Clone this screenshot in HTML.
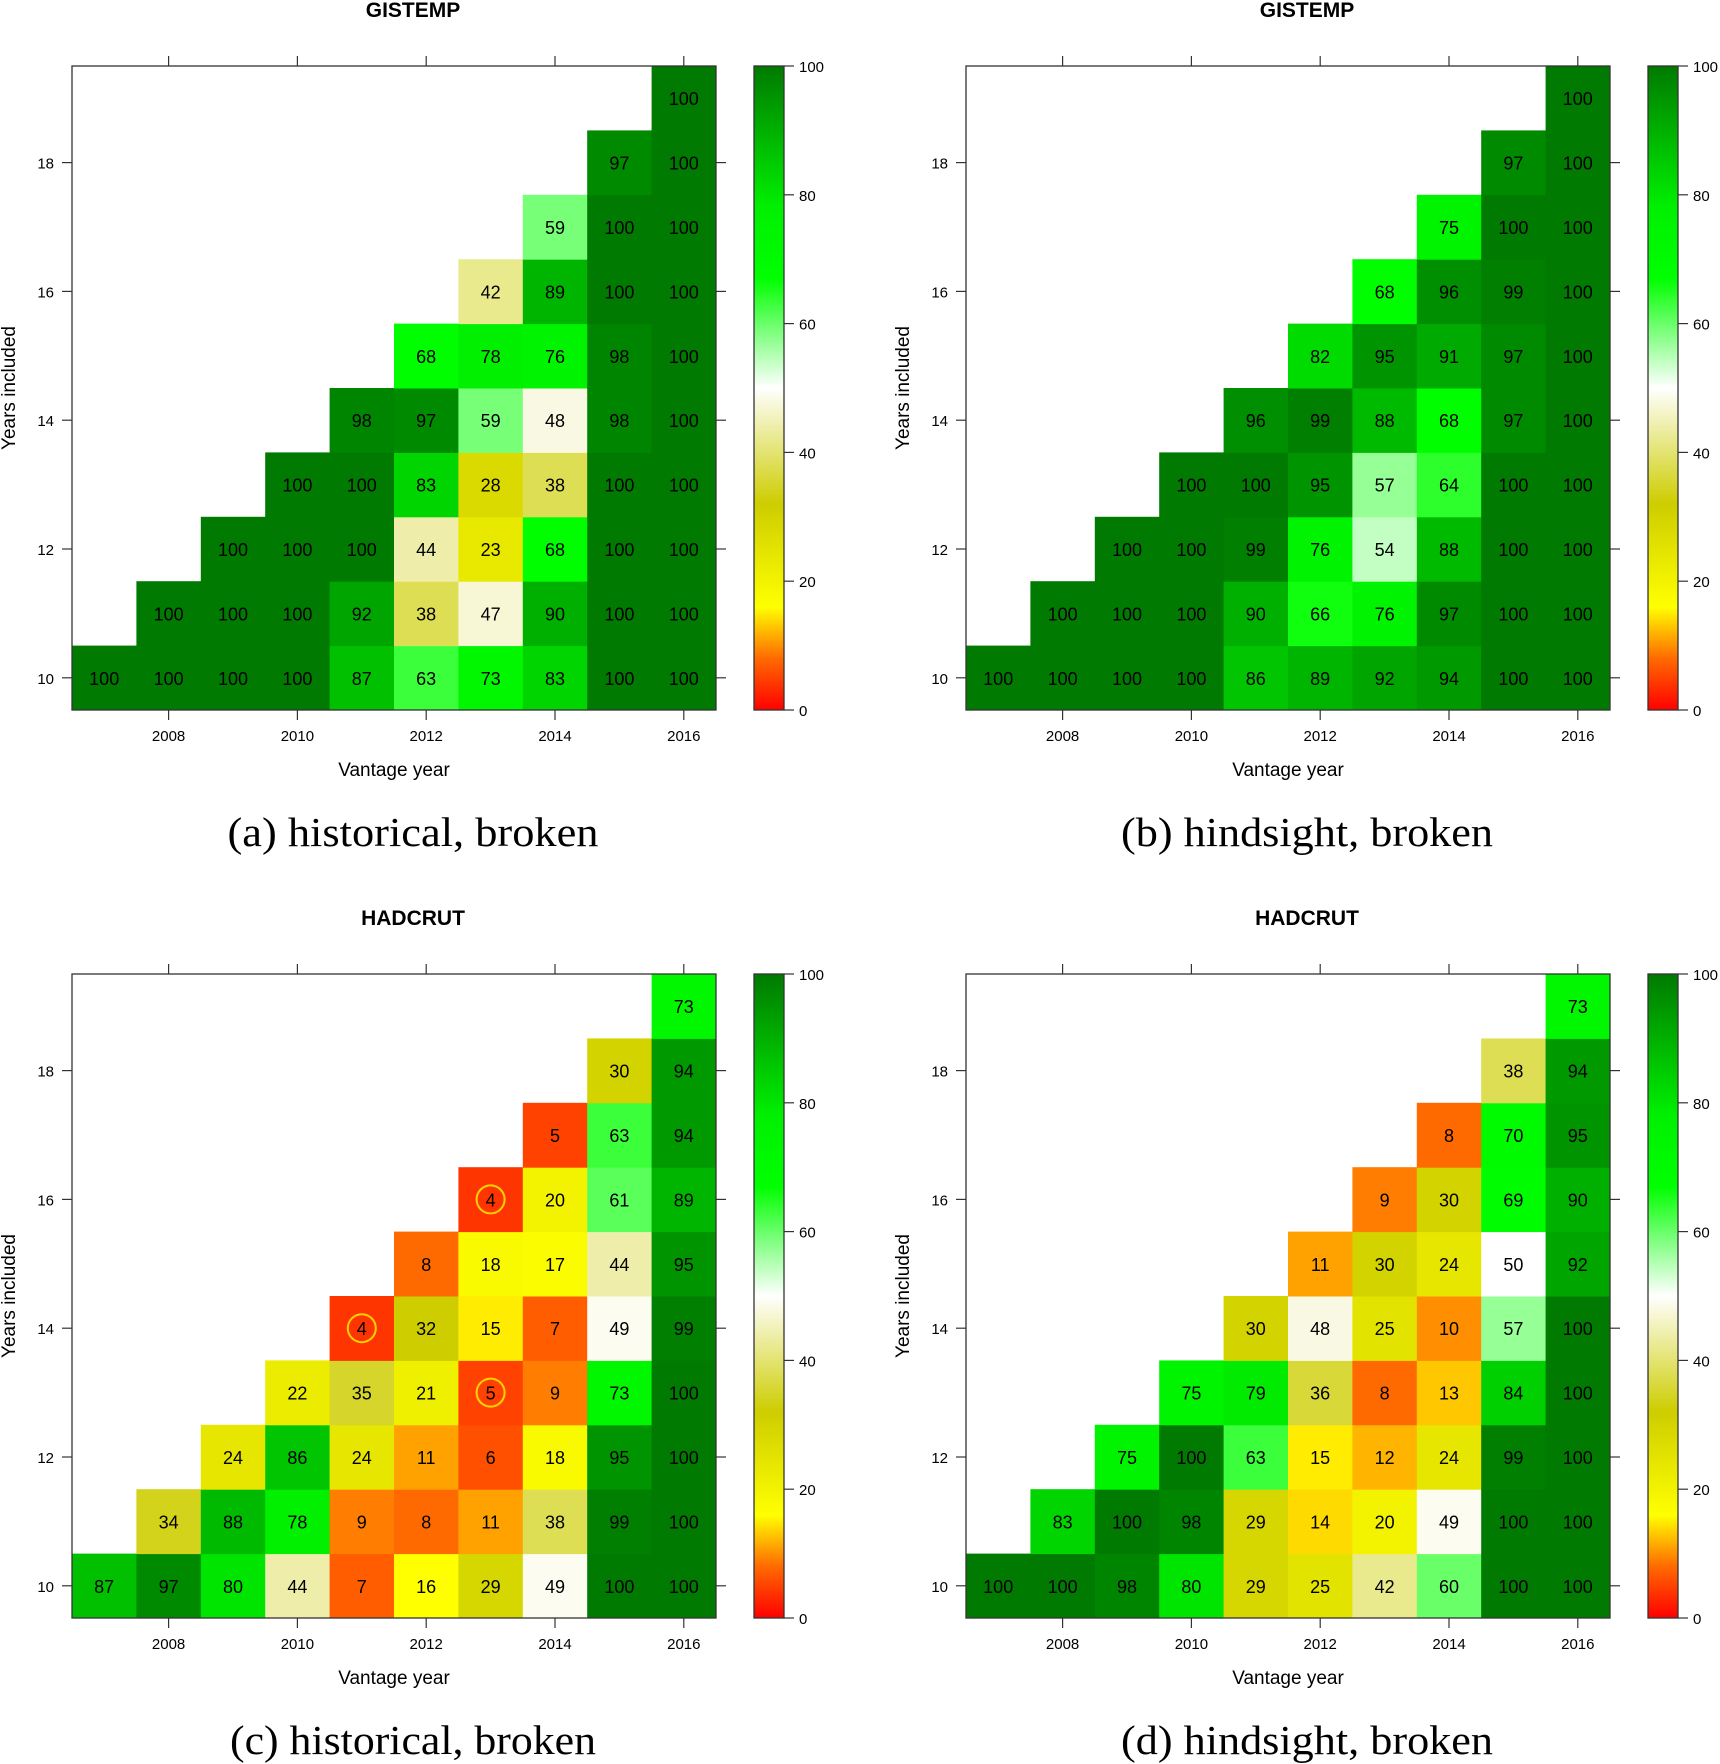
<!DOCTYPE html>
<html><head><meta charset="utf-8">
<style>
html,body{margin:0;padding:0;background:#fff;}
svg{display:block;}
</style></head>
<body>
<svg id="chart" width="1720" height="1764" xmlns="http://www.w3.org/2000/svg" font-family="'Liberation Sans', sans-serif">
<defs>
<linearGradient id="cbar" x1="0" y1="1" x2="0" y2="0">
<stop offset="0" stop-color="#ff0000"/>
<stop offset="0.08" stop-color="#ff6a00"/>
<stop offset="0.16" stop-color="#ffff00"/>
<stop offset="0.32" stop-color="#cdcd00"/>
<stop offset="0.5" stop-color="#ffffff"/>
<stop offset="0.67" stop-color="#00ff00"/>
<stop offset="0.78" stop-color="#00f000"/>
<stop offset="1" stop-color="#007a00"/>
</linearGradient>
</defs>
</svg>
<script>
const vantageYears = [2007,2008,2009,2010,2011,2012,2013,2014,2015,2016];
const yearsIncluded = [10,11,12,13,14,15,16,17,18,19];
const xTickLabels = [2008,2010,2012,2014,2016];
const yTickLabels = [10,12,14,16,18];
const cbarTickLabels = [0,20,40,60,80,100];
const panelTitles = ["GISTEMP","GISTEMP","HADCRUT","HADCRUT"];
const panelCaptions = ["(a)  historical, broken","(b)  hindsight, broken","(c)  historical, broken","(d)  hindsight, broken"];
const valuesA = [[100],[100,100],[100,100,100],[100,100,100,100],[87,92,100,100,98],[63,38,44,83,97,68],[73,47,23,28,59,78,42],[83,90,68,38,48,76,89,59],[100,100,100,100,98,98,100,100,97],[100,100,100,100,100,100,100,100,100,100]];
const valuesB = [[100],[100,100],[100,100,100],[100,100,100,100],[86,90,99,100,96],[89,66,76,95,99,82],[92,76,54,57,88,95,68],[94,97,88,64,68,91,96,75],[100,100,100,100,97,97,99,100,97],[100,100,100,100,100,100,100,100,100,100]];
const valuesC = [[87],[97,34],[80,88,24],[44,78,86,22],[7,9,24,35,4],[16,8,11,21,32,8],[29,11,6,5,15,18,4],[49,38,18,9,7,17,20,5],[100,99,95,73,49,44,61,63,30],[100,100,100,100,99,95,89,94,94,73]];
const valuesD = [[100],[100,83],[98,100,75],[80,98,100,75],[29,29,63,79,30],[25,14,15,36,48,11],[42,20,12,8,25,30,9],[60,49,24,13,10,24,30,8],[100,100,99,84,57,50,69,70,38],[100,100,100,100,100,92,90,95,94,73]];
const circledC = [[2011,14],[2013,13],[2013,16]];
const captionWidths = [371,372,366,372];

const NS="http://www.w3.org/2000/svg";
const svg=document.getElementById('chart');
function mk(tag,attrs,parent){const e=document.createElementNS(NS,tag);for(const k in attrs)e.setAttribute(k,attrs[k]);(parent||svg).appendChild(e);return e;}
const stops=[[0,[255,0,0]],[8,[255,106,0]],[16,[255,255,0]],[32,[205,205,0]],[50,[255,255,255]],[67,[0,255,0]],[78,[0,240,0]],[100,[0,122,0]]];
function color(v){for(let i=0;i<stops.length-1;i++){const a=stops[i],b=stops[i+1];if(v<=b[0]){const t=(v-a[0])/(b[0]-a[0]);const c=a[1].map((x,j)=>Math.round(x+(b[1][j]-x)*t));return `rgb(${c.join(',')})`;}}return 'rgb(0,122,0)';}

const PL=72,PR=716,PT=66,PB=710,CBL=754,CBR=784;
const cw=(PR-PL)/10,ch=(PB-PT)/10;
const panels=[[valuesA,0,0,[]],[valuesB,894,0,[]],[valuesC,0,908,circledC],[valuesD,894,908,[]]];
panels.forEach((p,pi)=>{
  const [vals,ox,oy,circ]=p;
  const g=mk('g',{transform:`translate(${ox},${oy})`});
  
  
  const xS=yr=>PL+(yr-2006.5)*cw;
  const yS=n=>PB-(n-9.5)*ch;
  vals.forEach((col,ci)=>{col.forEach((v,ri)=>{
    const yr=vantageYears[ci],n=yearsIncluded[ri];
    const r=mk('rect',{x:xS(yr)-cw/2,y:yS(n)-ch/2,width:cw+0.5,height:ch+0.5,fill:color(v)},g);
    
    
    const t=mk('text',{x:xS(yr),y:yS(n)+7,'text-anchor':'middle','font-size':18,fill:'#000'},g);
    t.textContent=v;
    
    
  });});
  circ.forEach(c=>{
    const e=mk('circle',{cx:xS(c[0]),cy:yS(c[1]),r:14,fill:'none',stroke:'#ffd200','stroke-width':2},g);
    
    
  });
  const fr=mk('rect',{x:PL,y:PT,width:PR-PL,height:PB-PT,fill:'none',stroke:'#333','stroke-width':1.3},g);
  
  
  xTickLabels.forEach(yr=>{
    const x=xS(yr);
    mk('line',{x1:x,x2:x,y1:PB,y2:PB+10,stroke:'#333','stroke-width':1.2},g);
    mk('line',{x1:x,x2:x,y1:PT,y2:PT-10,stroke:'#333','stroke-width':1.2},g);
    const t=mk('text',{x:x,y:PB+31,'text-anchor':'middle','font-size':15},g);
    t.textContent=yr;
    
    
  });
  yTickLabels.forEach(n=>{
    const y=yS(n);
    mk('line',{x1:PL,x2:PL-10,y1:y,y2:y,stroke:'#333','stroke-width':1.2},g);
    mk('line',{x1:PR,x2:PR+10,y1:y,y2:y,stroke:'#333','stroke-width':1.2},g);
    const t=mk('text',{x:54,y:y+6,'text-anchor':'end','font-size':15},g);
    t.textContent=n;
    
    
  });
  const cb=mk('rect',{x:CBL,y:PT,width:CBR-CBL,height:PB-PT,fill:'url(#cbar)',stroke:'#333','stroke-width':1.3},g);
  
  
  cbarTickLabels.forEach(v=>{
    const y=PB-(v/100)*(PB-PT);
    mk('line',{x1:CBR,x2:CBR+10,y1:y,y2:y,stroke:'#333','stroke-width':1.2},g);
    const t=mk('text',{x:799,y:y+6,'font-size':15},g);
    t.textContent=v;
    
    
  });
  const ti=mk('text',{x:413,y:17,'text-anchor':'middle','font-size':21,'font-weight':'bold'},g);
  ti.textContent=panelTitles[pi];
  
  
  const xt=mk('text',{x:394,y:776,'text-anchor':'middle','font-size':19},g);
  xt.textContent='Vantage year';
  
  
  const yt=mk('text',{x:0,y:0,'text-anchor':'middle','font-size':19,transform:`translate(15,388) rotate(-90)`},g);
  yt.textContent='Years included';
  
  
  const cap=mk('text',{x:413,y:846,'text-anchor':'middle','font-size':41,'font-family':"'Liberation Serif', serif",'xml:space':'preserve',textLength:captionWidths[pi],lengthAdjust:'spacingAndGlyphs'},g);
  cap.textContent=panelCaptions[pi];
  
  
});
</script>
</body></html>
